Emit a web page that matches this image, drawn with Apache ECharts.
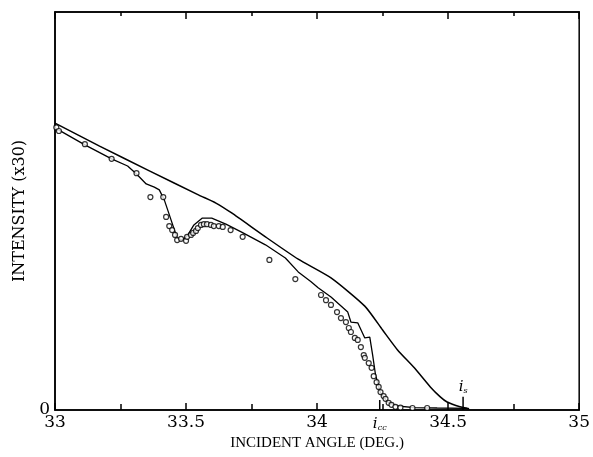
<!DOCTYPE html>
<head>
	<meta charset="utf-8">
	<title>Intensity vs incident angle</title>
	<script src="https://cdn.jsdelivr.net/npm/echarts@6/dist/echarts.min.js"></script>
</head>
<body style="margin:0">
	<div id="main" style="width:593px; height:457px"></div>
	<script type="text/javascript">
	// theory curve (upper, smooth)
	var theoryX = [33.000, 33.170, 33.360, 33.549, 33.614, 33.674, 33.803, 33.928, 34.053, 34.182, 34.250, 34.307, 34.371, 34.432, 34.470, 34.496, 34.545, 34.580];
	var theoryY = [72.1, 66.3, 60.1, 54.0, 52.0, 49.5, 43.5, 37.9, 33.2, 26.1, 20.1, 15.1, 10.6, 5.8, 3.3, 2.0, 0.8, 0.3];

	// fitted curve through the measurements
	var fitX = [33.000, 33.114, 33.216, 33.277, 33.311, 33.348, 33.379, 33.398, 33.417, 33.443, 33.466, 33.485, 33.504, 33.530, 33.561, 33.598, 33.652, 33.712, 33.803, 33.879, 33.928, 33.977, 34.004, 34.053, 34.117, 34.129, 34.155, 34.182, 34.201, 34.212, 34.223, 34.242, 34.269, 34.307, 34.371, 34.458, 34.572];
	var fitY = [70.9, 66.6, 63.1, 61.3, 59.3, 56.8, 56.0, 55.3, 52.8, 47.7, 43.2, 42.7, 43.7, 46.5, 48.2, 48.2, 46.7, 44.7, 41.5, 38.2, 34.7, 32.2, 30.7, 28.4, 24.6, 22.1, 21.9, 18.1, 18.3, 13.8, 8.8, 4.3, 2.0, 1.0, 0.6, 0.5, 0.4];

	// measured points (open circles)
	var measX = [33.005, 33.015, 33.114, 33.216, 33.311, 33.364, 33.413, 33.424, 33.436, 33.447, 33.458, 33.466, 33.481, 33.500, 33.504, 33.519, 33.527, 33.538, 33.545, 33.557, 33.568, 33.580, 33.595, 33.606, 33.625, 33.640, 33.670, 33.716, 33.818, 33.917, 34.015, 34.034, 34.053, 34.076, 34.091, 34.110, 34.121, 34.129, 34.144, 34.155, 34.167, 34.178, 34.182, 34.197, 34.208, 34.216, 34.227, 34.235, 34.242, 34.254, 34.261, 34.273, 34.284, 34.299, 34.318, 34.364, 34.420];
	var measY = [71.0, 70.1, 66.8, 63.1, 59.5, 53.5, 53.5, 48.5, 46.2, 45.2, 44.0, 42.7, 43.0, 42.5, 43.5, 44.0, 44.5, 45.0, 45.7, 46.5, 46.7, 46.7, 46.5, 46.2, 46.2, 46.0, 45.2, 43.5, 37.7, 32.9, 28.9, 27.6, 26.4, 24.6, 23.1, 22.1, 20.6, 19.6, 18.1, 17.6, 15.8, 13.8, 13.1, 11.8, 10.6, 8.5, 7.0, 5.8, 4.5, 3.5, 2.8, 1.8, 1.3, 0.8, 0.6, 0.5, 0.5];

	// marked angles i_cc and i_s
	var markSub = ['cc', 's'];
	var markX = [34.239, 34.557];
	var markH = [2.5, 3.3];

	var xTicks = [33, 33.5, 34, 34.5, 35];

	function pairs(xs, ys) {
		return xs.map(function (x, i) { return [x, ys[i]]; });
	}

	var myChart = echarts.init(document.getElementById('main'));

	var serif = 'DejaVu Serif';
	// onZero 要关掉，不然上边的轴会跑到 y=0 处
	var axisBase = {
		type: 'value', min: 33, max: 35, interval: 0.5,
		axisLine: {show: true, onZero: false, lineStyle: {color: '#000', width: 1.5}},
		splitLine: {show: false}
	};

	var markSeries = markX.map(function (x, i) {
		var below = (i === 0);
		var lbl = {
			show: true,
			position: below ? 'bottom' : 'top',
			distance: below ? 6 : 2,
			formatter: '{i|i}{s|' + markSub[i] + '}',
			rich: {
				i: {fontFamily: serif, fontStyle: 'italic', fontSize: 15, color: '#000'},
				s: {fontFamily: serif, fontStyle: 'italic', fontSize: 8, color: '#000', verticalAlign: 'bottom', padding: [8, 0, 0, 0]}
			}
		};
		return {
			type: 'line',
			data: [
				{value: [x, 0], label: below ? lbl : {show: false}},
				{value: [x, markH[i]], label: below ? {show: false} : lbl}
			],
			symbol: 'circle', symbolSize: 0, showSymbol: true,
			lineStyle: {color: '#000', width: 1.5},
			silent: true, animation: false, z: 4
		};
	});

	var option = {
		backgroundColor: '#ffffff',
		animation: false,
		grid: {left: 55, right: 10, top: 12, bottom: 47, show: true, borderColor: '#000', borderWidth: 1.5},
		xAxis: [
			Object.assign({}, axisBase, {
				position: 'bottom',
				name: 'INCIDENT ANGLE (DEG.)',
				nameLocation: 'middle',
				nameGap: 24,
				nameTextStyle: {fontFamily: 'Liberation Serif', fontSize: 15, color: '#000'},
				axisTick: {show: true, inside: true, length: 7, lineStyle: {color: '#000', width: 1.5}},
				minorTick: {show: true, splitNumber: 2, length: 6, lineStyle: {color: '#000', width: 1.5}},
				axisLabel: {
					fontFamily: serif, fontSize: 17, color: '#000', margin: 4,
					formatter: function (v) { return xTicks.indexOf(v) >= 0 ? String(v) : ''; }
				}
			}),
			Object.assign({}, axisBase, {
				position: 'top',
				axisTick: {show: true, inside: true, length: 7, lineStyle: {color: '#000', width: 1.5}},
				minorTick: {show: true, splitNumber: 2, length: 4, lineStyle: {color: '#000', width: 1.5}},
				axisLabel: {show: false}
			})
		],
		yAxis: {
			type: 'value', min: 0, max: 100, interval: 100,
			name: 'INTENSITY (x30)',
			nameLocation: 'middle',
			nameGap: 26,
			nameTextStyle: {fontFamily: serif, fontSize: 16, color: '#000'},
			axisLine: {show: true, onZero: false, lineStyle: {color: '#000', width: 1.5}},
			axisTick: {show: false},
			splitLine: {show: false},
			axisLabel: {
				fontFamily: serif, fontSize: 17, color: '#000', margin: 5,
				formatter: function (v) { return v === 0 ? '0' : ''; }
			}
		},
		series: [
			{
				name: 'theory', type: 'line', data: pairs(theoryX, theoryY),
				showSymbol: false, smooth: 0.2,
				lineStyle: {color: '#000', width: 1.5}, z: 3
			},
			{
				name: 'fit', type: 'line', data: pairs(fitX, fitY),
				showSymbol: false,
				lineStyle: {color: '#000', width: 1.3}, z: 3
			},
			{
				name: 'measured', type: 'scatter', data: pairs(measX, measY),
				symbol: 'circle', symbolSize: 5,
				itemStyle: {color: '#fff', borderColor: '#000', borderWidth: 1.2}, z: 5
			}
		].concat(markSeries)
	};

	myChart.setOption(option);
	</script>
</body>
